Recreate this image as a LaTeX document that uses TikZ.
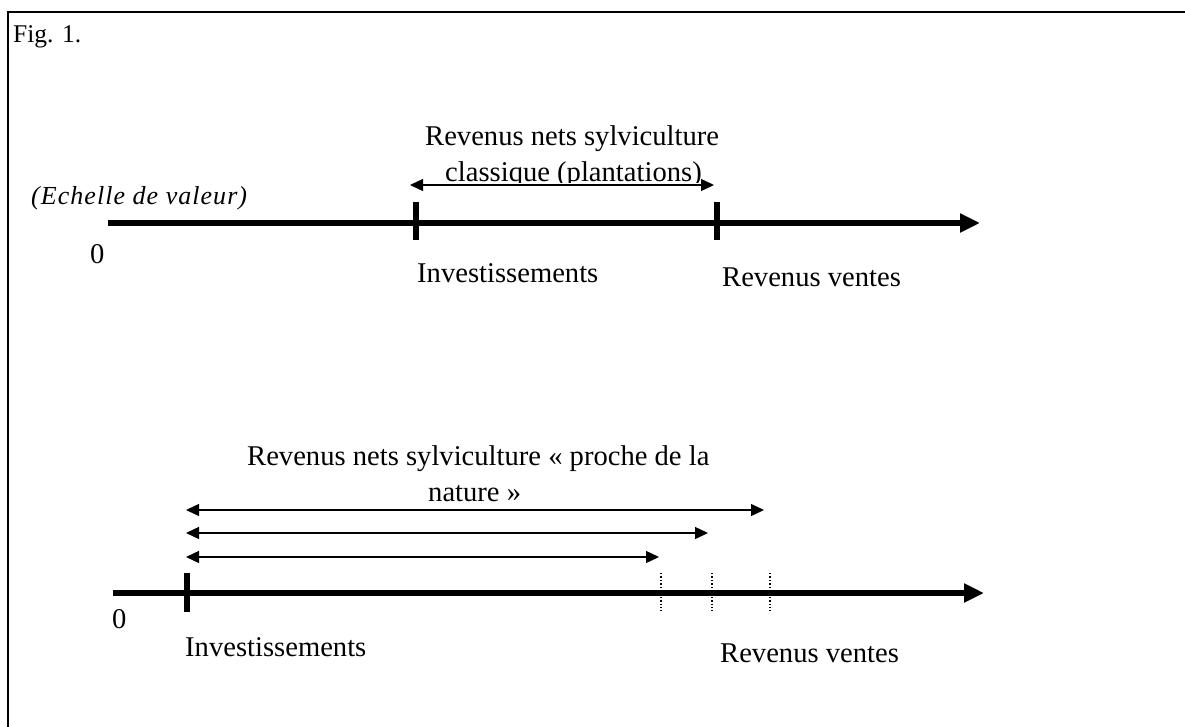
\documentclass[tikz,border=0pt]{standalone}
\usepackage{fontspec}
\setmainfont{Liberation Serif}
\usetikzlibrary{arrows.meta}
\tikzset{
  lbl/.style={inner sep=0pt, anchor=base west, font=\fontsize{28.6}{34}\selectfont},
  axisline/.style={line width=5.5pt, -{Triangle[length=20pt,width=18pt]}},
  tickmark/.style={line width=6pt},
  dottick/.style={line width=1.4pt, dotted},
  span/.style={line width=1.3pt, {Triangle[length=13pt,width=12pt]}-{Triangle[length=13pt,width=12pt]}},
  frameline/.style={line width=2pt}
}
\begin{document}
\begin{tikzpicture}[x=1pt,y=-1pt]
\useasboundingbox (0,0) rectangle (1185,727);
% frame
\coordinate (fTL) at (8,12);
\coordinate (fTR) at (1185,12);
\coordinate (fBL) at (8,727);
\draw[frameline] (fTR) -- (fTL) -- (fBL);
\node[lbl, font=\fontsize{25.5}{30}\selectfont] (fig) at (13,43) {Fig. 1.};

% ---- top diagram ----
\node[lbl, font=\fontsize{26}{30}\selectfont\itshape\addfontfeatures{LetterSpace=4}] (scale) at (31,205) {(Echelle de valeur)};
\coordinate (a1s) at (108,223);
\coordinate (a1e) at (980,223);
\draw[axisline] (a1s) -- (a1e);
\coordinate (t1a) at (416,202); \coordinate (t1b) at (416,240);
\coordinate (t2a) at (717,202); \coordinate (t2b) at (717,240);
\draw[tickmark] (t1a) -- (t1b);
\draw[tickmark] (t2a) -- (t2b);
\coordinate (s1a) at (410,185); \coordinate (s1b) at (714,185);
\node[lbl] (r1) at (425,146) {Revenus nets sylviculture};
\begin{scope}
\clip (380,100) rectangle (760,183);
\node[lbl] (r2) at (445,182) {classique (plantations)};
\end{scope}
\draw[span] (s1a) -- (s1b);
\node[lbl] (z1) at (90,264) {0};
\node[lbl] (inv1) at (417,282) {Investissements};
\node[lbl] (rv1) at (722,287) {Revenus ventes};

% ---- bottom diagram ----
\node[lbl] (r3) at (247,465) {Revenus nets sylviculture « proche de la};
\node[lbl] (r4) at (428,501) {nature »};
\coordinate (b0) at (186,510);
\coordinate (b1) at (764,510);
\coordinate (c0) at (186,533);
\coordinate (c1) at (708,533);
\coordinate (d0) at (186,557);
\coordinate (d1) at (659,557);
\draw[span] (b0) -- (b1);
\draw[span] (c0) -- (c1);
\draw[span] (d0) -- (d1);
\coordinate (a2s) at (113,593);
\coordinate (a2e) at (984,593);
\draw[axisline] (a2s) -- (a2e);
\coordinate (u1a) at (187,573); \coordinate (u1b) at (187,612);
\draw[tickmark] (u1a) -- (u1b);
\coordinate (v1a) at (661,573); \coordinate (v1b) at (661,611);
\coordinate (v2a) at (712,573); \coordinate (v2b) at (712,611);
\coordinate (v3a) at (770,573); \coordinate (v3b) at (770,611);
\draw[dottick] (v1a) -- (v1b);
\draw[dottick] (v2a) -- (v2b);
\draw[dottick] (v3a) -- (v3b);
\node[lbl] (z2) at (112,628) {0};
\node[lbl] (inv2) at (185,656) {Investissements};
\node[lbl] (rv2) at (720,662) {Revenus ventes};
\end{tikzpicture}
\end{document}
